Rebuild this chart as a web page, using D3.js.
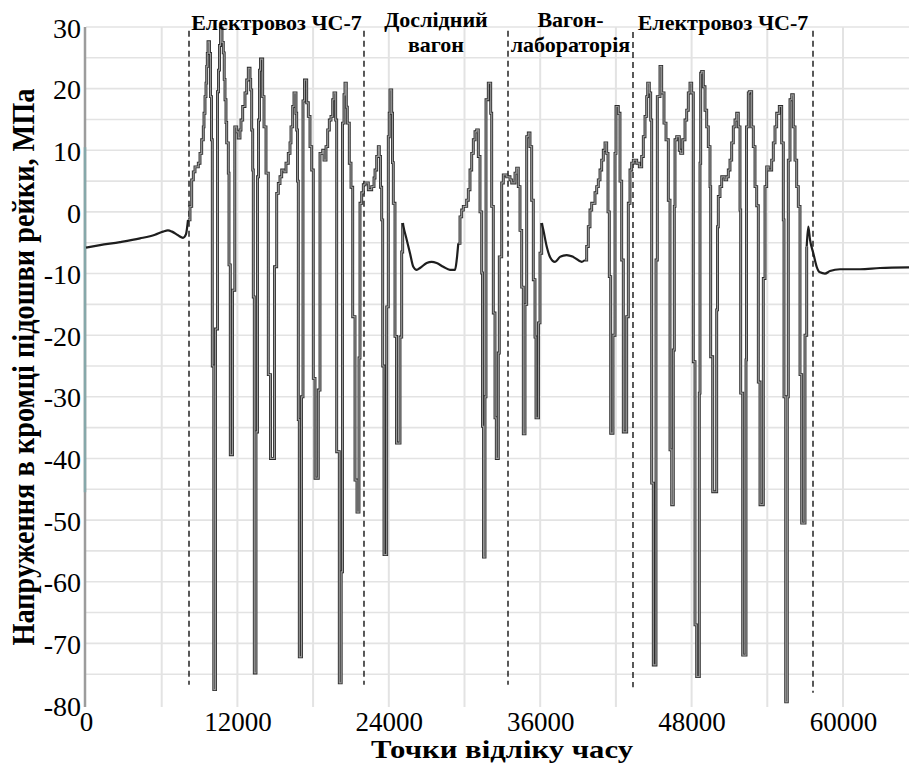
<!DOCTYPE html>
<html>
<head>
<meta charset="utf-8">
<script src="https://cdn.jsdelivr.net/npm/d3@7"></script>
<style>
  body { margin: 0; background: #fff; }
  svg { display: block; }
</style>
</head>
<body>
<div id="container"></div>
<script>
let w = 909;
let h = 767;

// tick values
let xTicks = [0, 12000, 24000, 36000, 48000, 60000];
let yTicks = [30, 20, 10, 0, -10, -20, -30, -40, -50, -60, -70, -80];

// section borders (sample index, top, bottom)
let borders = [[8164, 29.4, -76.7], [22034, 29.4, -76.7], [33448, 29.4, -76.7], [43355, 29.2, -77.1], [57622, 29.4, -78]];

// section names
let sections = [["Електровоз ЧС-7"], ["Дослідний", "вагон"], ["Вагон-", "лабораторія"], ["Електровоз ЧС-7"]];

// signal: smooth parts
let smoothA = [[0,-5.8],[1110,-5.4],[2695,-4.9],[4280,-4.3],[5470,-3.7],[6103,-3.2],[6499,-3.0],[6816,-3.2],[7292,-3.8],[7688,-4.2],[7926,-3.6],[8085,-1.3]];
let smoothB = [[25101,-1.8],[25149,-2.3],[25419,-4.5],[25680,-6.7],[25942,-8.9],[26211,-9.4],[26473,-9.1],[27004,-8.3],[27400,-8.1],[27796,-8.3],[28320,-8.9],[28851,-9.4],[29247,-9.4],[29382,-7.8],[29508,-5.1]];
let smoothC = [[36119,-1.8],[36246,-2.9],[36515,-5.6],[36777,-7.3],[37173,-8.1],[37569,-7.3],[38100,-7.0],[38623,-7.3],[39289,-8.1],[39551,-7.8]];
let smoothD = [[57123,-5.6],[57249,-2.4],[57384,-4.5],[57646,-6.7],[57915,-8.9],[58177,-9.8],[58573,-10],[58969,-9.6],[59762,-9.3],[61347,-9.3],[62932,-9.1],[65231,-9.0]];

// signal: stepped parts (wheel passages)
let stepsA = [
  [8085,-1.3],[8243,0.9],[8378,5.2],[8505,6.5],[8639,7.3],[8901,7.9],[9036,9.5],[9170,11.7],[9297,13.8],[9353,16],[9432,18.7],[9511,20.9],[9567,23.6],[9614,25.7],[9670,27.6],[9789,25.7],[9868,18.7],[9947,11.7],
  [10010,-25],[10129,-77.5],[10264,-19],[10423,19.5],[10502,23],[10581,27],[10661,29.8],[10779,27.5],[10882,25.8],[10954,21.5],[11017,18.2],[11096,14.5],[11152,11.2],[11279,6.3],
  [11334,-8.6],[11437,-39.4],[11611,-12.7],[11794,13.8],[11945,13],[12071,12],[12206,13.3],[12285,14.9],[12420,17.1],[12602,19.3],[12737,21.4],[12864,23.3],[12999,21.5],[13054,19.8],[13133,13.3],[13213,6.8],
  [13260,-13.8],[13339,-74.8],[13474,-35.7],[13593,5.7],[13672,14.9],[13752,23],[13831,24.8],[14005,18.7],[14108,13.8],[14267,6.3],
  [14449,-26.4],[14623,-40],[14940,-8.9],[15115,3],[15242,4.6],[15376,5.7],[15511,6.8],[15693,6.5],[15852,7.9],[16034,9.5],[16169,11.2],[16248,13.8],[16383,17.1],[16486,19.3],[16645,16],[16700,13.3],[16763,5],
  [16827,-33.7],[16906,-72.2],[17080,-30],[17199,18],[17318,21.4],[17493,17.7],[17620,15.5],[17754,10.6],[17889,6.8],
  [18016,-27],[18151,-43.2],[18412,-28.9],[18547,9.5],[18761,10],[18864,8.4],[19022,10.6],[19157,13.3],[19284,14.9],[19418,15.5],[19553,18.2],[19656,19.3],[19791,14.9],
  [19870,-38.9],[20076,-76.4],[20227,-58.4],[20330,14.4],[20449,19],[20528,20.9],[20631,17],[20711,14.4],[20869,7.9],[21004,4],
  [21139,-17],[21321,-43.5],[21479,-48.7],[21638,-23.7],[21717,1.4],[21852,3.1],[21979,4.4],[22113,4.7],[22375,3.6],[22645,4.1],[22827,5.5],[22907,6.8],[23041,9],[23168,10.6],[23247,9],[23342,4],[23437,-1.3],
  [23516,-25],[23620,-55.6],[23833,-15.4],[23960,12.2],[24032,16],[24095,19.8],[24230,16],[24293,8],[24357,1.4],
  [24491,-20.2],[24610,-37.5],[24888,-20.3],[25022,-6.5],[25101,-1.8]
];
let stepsB = [
  [29508,-5.1],[29643,-0.8],[29778,0.3],[29905,0.9],[30174,1.9],[30301,3.6],[30436,6.8],[30571,9.5],[30698,11.7],[30832,13],[30967,13.3],[31094,9],[31228,0],[31363,-9.9],
  [31427,-34.8],[31506,-56],[31625,-30],[31704,18.2],[31886,20.9],[32077,16],[32156,0.9],[32283,-16.4],
  [32417,-33.4],[32520,-40],[32679,-22.9],[32758,-7.3],[32948,4.7],[33075,6],[33345,5.7],[33606,5.2],[33741,4.7],[34002,6.3],[34137,7.1],[34264,4.1],[34399,-3],[34534,-12.2],
  [34660,-36],[34795,-15],[34930,12.2],[35057,12.8],[35191,10.6],[35326,1.9],[35453,-11],[35588,-20.3],
  [35667,-33.4],[35865,-18],[35984,-6.7],[36119,-1.8]
];
let stepsC = [
  [39551,-7.8],[39685,-5.6],[39812,-2.4],[39947,0.3],[40082,1.4],[40343,3.1],[40478,4.1],[40605,5.2],[40740,6.8],[40874,8.4],[41001,10],[41136,11.2],[41271,9.5],[41374,0],[41477,-10.5],
  [41588,-35.9],[41770,-20],[41929,9.5],[42008,17.1],[42190,16],[42325,5],[42459,-7.8],
  [42586,-35.7],[42856,-17],[42983,1.4],[43117,6.8],[43252,7.9],[43379,8.4],[43648,7.9],[43855,7.3],[44045,9],[44172,12.2],[44307,15.5],[44441,18.7],[44521,20.9],[44647,19.3],[44758,14.9],
  [44837,-44],[44964,-73.5],[45178,-7.8],[45282,18.7],[45495,23.6],[45630,19.3],[45812,14.4],[45971,11.7],[46154,1.9],
  [46288,-38.6],[46423,-47.5],[46549,-22.4],[46629,0.9],[46684,11.7],[46819,12.2],[47025,10],[47136,9.5],[47295,11.7],[47477,14.9],[47612,16.5],[47738,19.3],[47873,20.9],[48008,19.3],
  [48135,-24.3],[48270,-67],[48404,-75.4],[48611,-29.4],[48666,7.9],[48721,22.5],[48800,22.8],[48927,20.3],[49062,16.5],[49197,13.8],[49323,10.6],[49458,4.1],
  [49513,-23.5],[49672,-45.4],[49989,-15.9],[50053,-2.4],[50116,2.5],[50251,4.1],[50386,5.7],[50647,5.2],[50782,5.7],[50909,6.8],[51043,8.4],[51178,11.2],[51305,13.8],[51440,14.9],[51574,16],[51701,13.8],[51836,0.3],
  [51891,-29.4],[52050,-71.9],[52312,-24],[52351,13.8],[52494,19.3],[52573,19.5],[52763,13.8],[52890,10.6],[53025,4.1],[53160,1],
  [53287,-27.6],[53421,-47.5],[53683,-10.8],[53818,4.1],[53952,7.3],[54079,6.8],[54348,8.4],[54475,11.2],[54610,13.8],[54745,16],[54951,17.1],[55141,11.2],[55268,-1.3],
  [55323,-30],[55458,-79.5],[55585,-30],[55664,8.4],[55799,18.2],[55934,19],[56061,13.8],[56196,8.4],[56330,4.1],[56457,0.9],
  [56592,-26.4],[56726,-50.5],[56988,-20],[57123,-5.6]
];

let serif = "'Liberation Serif', 'Times New Roman', serif";

let viz = d3.select("#container")
  .append("svg")
    .attr("width", w)
    .attr("height", h)
    .style("background-color", "#fff")
;

let xScale = d3.scaleLinear().domain([0, 65231]).range([86, 909]);
let yScale = d3.scaleLinear().domain([-80, 30]).range([705, 27]);

// horizontal grid, every 5 MPa
let hGrid = d3.range(-75, 31, 5);
viz.append("g")
  .selectAll("line").data(hGrid).enter()
  .append("line")
    .attr("x1", 86)
    .attr("x2", w)
    .attr("y1", d => yScale(d))
    .attr("y2", d => yScale(d))
    .attr("stroke", "#e3e3e3")
    .attr("stroke-width", 1.6)
;

// vertical grid, every 6000 samples
let vGrid = d3.range(6000, 65000, 6000);
viz.append("g")
  .selectAll("line").data(vGrid).enter()
  .append("line")
    .attr("x1", d => xScale(d))
    .attr("x2", d => xScale(d))
    .attr("y1", 27)
    .attr("y2", 707)
    .attr("stroke", "#e3e3e3")
    .attr("stroke-width", 2)
;

// y axis line
viz.append("line")
  .attr("x1", 85).attr("x2", 85)
  .attr("y1", 27).attr("y2", 707)
  .attr("stroke", "#9c9c9c")
  .attr("stroke-width", 2.5)
;
viz.append("line")
  .attr("x1", 85).attr("x2", 85)
  .attr("y1", yScale(10.5)).attr("y2", yScale(-45.5))
  .attr("stroke", "#86a8aa")
  .attr("stroke-width", 2.5)
;

// section borders
viz.append("g")
  .selectAll("line").data(borders).enter()
  .append("line")
    .attr("x1", d => xScale(d[0]))
    .attr("x2", d => xScale(d[0]))
    .attr("y1", d => yScale(d[1]))
    .attr("y2", d => yScale(d[2]))
    .attr("stroke", "#000")
    .attr("stroke-width", 1.3)
    .attr("stroke-dasharray", "6,4")
;

// signal
let smoothLine = d3.line()
  .x(d => xScale(d[0]))
  .y(d => yScale(d[1]))
  .curve(d3.curveMonotoneX);
let stepLine = d3.line()
  .x(d => xScale(d[0]))
  .y(d => yScale(d[1]))
  .curve(d3.curveStepAfter);

let stepParts = [stepsA, stepsB, stepsC];
let smoothParts = [smoothA, smoothB, smoothC, smoothD];

viz.append("g")
  .selectAll("path").data(stepParts).enter()
  .append("path")
    .attr("d", stepLine)
    .attr("fill", "none")
    .attr("stroke", "#2a2a2a")
    .attr("stroke-width", 2.9)
;
viz.append("g")
  .selectAll("path").data(stepParts).enter()
  .append("path")
    .attr("d", stepLine)
    .attr("fill", "none")
    .attr("stroke", "#999")
    .attr("stroke-width", 1.2)
;
viz.append("g")
  .selectAll("path").data(smoothParts).enter()
  .append("path")
    .attr("d", smoothLine)
    .attr("fill", "none")
    .attr("stroke", "#1e1e1e")
    .attr("stroke-width", 2.2)
;

// y tick labels
let yAxis = d3.axisLeft(yScale).tickValues(yTicks).tickSize(0).tickPadding(0).tickFormat(d => String(d));
let yG = viz.append("g")
  .attr("transform", "translate(81,0)")
  .call(yAxis);
yG.select(".domain").remove();
yG.selectAll("text")
  .attr("dy", "0.36em")
  .style("font-family", serif)
  .style("font-size", "28px")
  .attr("fill", "#000");

// x tick labels
let xAxis = d3.axisBottom(xScale).tickValues(xTicks).tickSize(0).tickPadding(0).tickFormat(d => String(d));
let xG = viz.append("g")
  .attr("transform", "translate(0,731)")
  .call(xAxis);
xG.select(".domain").remove();
xG.selectAll("text")
  .attr("y", 0)
  .attr("dy", 0)
  .style("font-family", serif)
  .style("font-size", "27px")
  .attr("fill", "#000");

// axis titles
viz.append("text")
  .attr("x", 502)
  .attr("y", 758)
  .attr("text-anchor", "middle")
  .attr("textLength", 262)
  .attr("lengthAdjust", "spacingAndGlyphs")
  .style("font-family", serif)
  .style("font-weight", "bold")
  .style("font-size", "26px")
  .text("Точки відліку часу");

viz.append("text")
  .attr("transform", "translate(34,367) rotate(-90)")
  .attr("text-anchor", "middle")
  .attr("textLength", 557)
  .attr("lengthAdjust", "spacingAndGlyphs")
  .style("font-family", serif)
  .style("font-weight", "bold")
  .style("font-size", "31px")
  .text("Напруження в кромці підошви рейки, МПа");

// section names between borders
let names = viz.append("g")
  .selectAll("text").data(sections).enter()
  .append("text")
    .attr("x", (d, i) => (xScale(borders[i][0]) + xScale(borders[i + 1][0])) / 2)
    .attr("y", d => d.length == 1 ? 30 : 27)
    .attr("text-anchor", "middle")
    .style("font-family", serif)
    .style("font-weight", "bold")
    .style("font-size", "22px")
;
names.selectAll("tspan").data(d => d).enter()
  .append("tspan")
    .attr("x", function() { return d3.select(this.parentNode).attr("x"); })
    .attr("dy", (d, i) => i == 0 ? 0 : 25)
    .text(d => d)
;
</script>
</body>
</html>
